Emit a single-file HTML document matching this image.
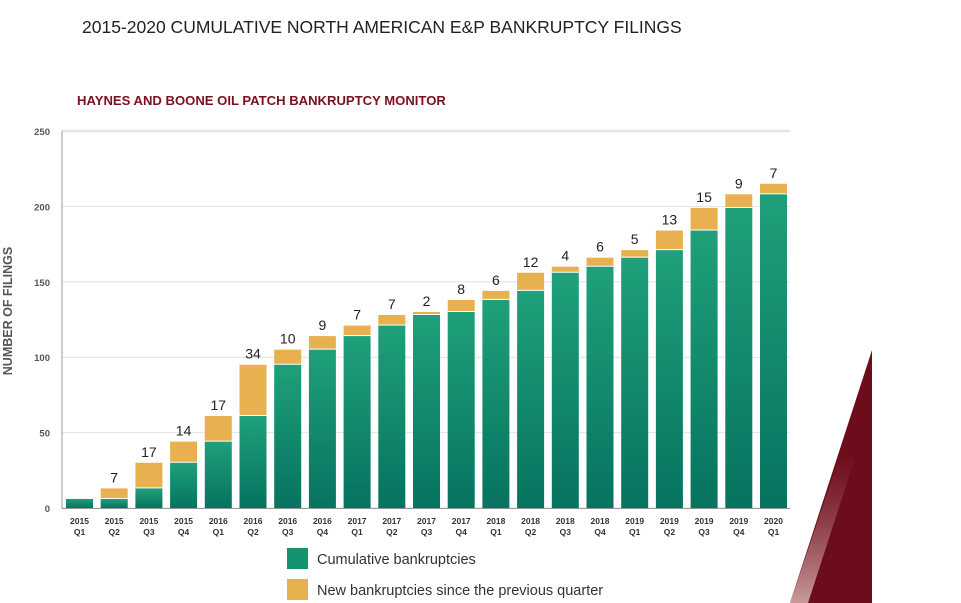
<!DOCTYPE html>
<html><head><meta charset="utf-8"><style>
body{margin:0;width:961px;height:603px;background:#fff;overflow:hidden;font-family:"Liberation Sans",sans-serif;}
svg{display:block}
</style></head><body>
<svg width="961" height="603">
<defs>
<linearGradient id="gg" x1="0" y1="0" x2="0" y2="1"><stop offset="0" stop-color="#1fa07a"/><stop offset="1" stop-color="#06735f"/></linearGradient>
<linearGradient id="rg" x1="0" y1="0" x2="0" y2="1"><stop offset="0" stop-color="#6d0d1b" stop-opacity="0.6"/><stop offset="1" stop-color="#c89a9a"/></linearGradient>
</defs>
<text x="82" y="33" font-size="17.5" fill="#222">2015-2020 CUMULATIVE NORTH AMERICAN E&amp;P BANKRUPTCY FILINGS</text>
<text x="77" y="105" font-size="13.1" font-weight="bold" fill="#7a1020">HAYNES AND BOONE OIL PATCH BANKRUPTCY MONITOR</text>
<polygon points="872,350 872,603 790,603" fill="#6d0d1b"/>
<polygon points="856,455 808,603 790,603 840,455" fill="url(#rg)"/>
<text transform="translate(12,311) rotate(-90)" text-anchor="middle" font-size="12.5" font-weight="bold" fill="#555">NUMBER OF FILINGS</text>
<g id="grid"></g><g id="bars"></g><g id="labels"></g>
<line x1="62" y1="131" x2="62" y2="509" stroke="#999" stroke-width="1"/>
<line x1="62" y1="508.5" x2="790" y2="508.5" stroke="#999" stroke-width="1"/>
<rect x="287" y="548" width="21" height="21" fill="#15936f"/>
<text x="317" y="564" font-size="14.5" fill="#333">Cumulative bankruptcies</text>
<rect x="287" y="579" width="21" height="21" fill="#e8b04e"/>
<text x="317" y="595" font-size="14.5" fill="#333">New bankruptcies since the previous quarter</text>
</svg>
<script>
const years=["2015","2015","2015","2015","2016","2016","2016","2016","2017","2017","2017","2017","2018","2018","2018","2018","2019","2019","2019","2019","2020"];
const quarters=["Q1","Q2","Q3","Q4","Q1","Q2","Q3","Q4","Q1","Q2","Q3","Q4","Q1","Q2","Q3","Q4","Q1","Q2","Q3","Q4","Q1"];
const cumulative=[6,6,13,30,44,61,95,105,114,121,128,130,138,144,156,160,166,171,184,199,208];
const newFilings=[0,7,17,14,17,34,10,9,7,7,2,8,6,12,4,6,5,13,15,9,7];
const yTicks=[0,50,100,150,200,250];
const NS='http://www.w3.org/2000/svg';
const y=v=>508-v*377/250;
const x=i=>79.5+i*34.7;
const bw=27;
function mk(t,a,p){const e=document.createElementNS(NS,t);for(const k in a)e.setAttribute(k,a[k]);p.appendChild(e);return e;}
const G=document.getElementById('grid'),B=document.getElementById('bars'),L=document.getElementById('labels');
yTicks.forEach(t=>{
  const ln=mk('line',{x1:62,x2:790,y1:y(t),y2:y(t),stroke:t==250?'#e6e6e6':'#e2e2e2','stroke-width':t==250?2.5:1},G);
  
  
  const tx=mk('text',{x:50,y:y(t)+4,'text-anchor':'end','font-size':9.5,'font-weight':'bold',fill:'#555'},G);
  tx.textContent=t;
  
  
});
cumulative.forEach((c,i)=>{
  const n=newFilings[i],cx=x(i);
  const g=mk('rect',{x:cx-bw/2,y:y(c),width:bw,height:y(0)-y(c),fill:'url(#gg)'},B);
  
  
  if(n>0){
    const o=mk('rect',{x:cx-bw/2,y:y(c+n),width:bw,height:y(c)-y(c+n)-1,fill:'#e8b04e'},B);
    
    
    const t=mk('text',{x:cx,y:y(c+n)-6,'text-anchor':'middle','font-size':14,fill:'#222'},L);
    t.textContent=n;
    
    
  }
  const a=mk('text',{x:cx,y:524,'text-anchor':'middle','font-size':8.5,'font-weight':'bold',fill:'#333'},L);
  a.textContent=years[i];
  
  
  const b=mk('text',{x:cx,y:535,'text-anchor':'middle','font-size':8.5,'font-weight':'bold',fill:'#333'},L);
  b.textContent=quarters[i];
  
  
});
</script>
</body></html>
